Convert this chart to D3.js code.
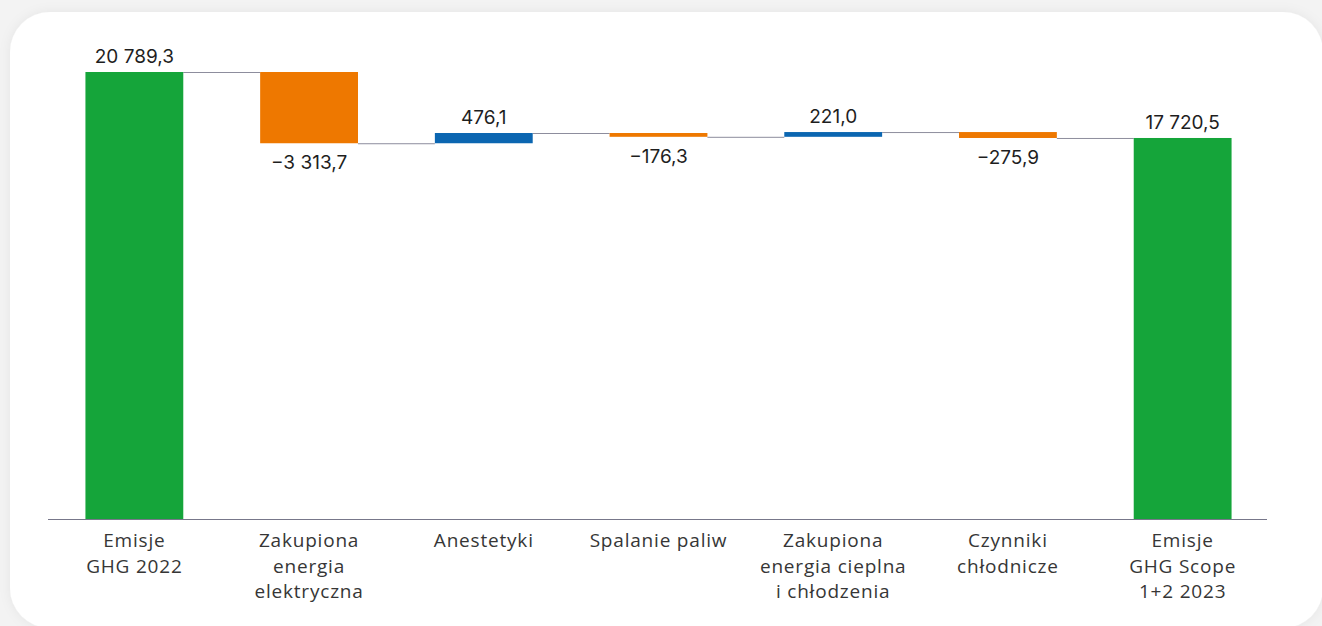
<!DOCTYPE html>
<html lang="pl">
<head>
<meta charset="utf-8">
<script src="https://cdn.jsdelivr.net/npm/d3@7"></script>
<style>
  html, body { margin: 0; padding: 0; background: #f3f3f3; }
  svg { display: block; }
</style>
</head>
<body>
<svg id="chart" width="1322" height="626"></svg>
<script>
// Waterfall: GHG emissions 2022 -> 2023 (Scope 1+2), tCO2e
const categories = [
  ["Emisje", "GHG 2022"],
  ["Zakupiona", "energia", "elektryczna"],
  ["Anestetyki"],
  ["Spalanie paliw"],
  ["Zakupiona", "energia cieplna", "i chłodzenia"],
  ["Czynniki", "chłodnicze"],
  ["Emisje", "GHG Scope", "1+2 2023"]
];
const values = [20789.3, -3313.7, 476.1, -176.3, 221.0, -275.9, 17720.5];
const kinds = ["total", "delta", "delta", "delta", "delta", "delta", "total"];
const valueLabels = ["20 789,3", "−3 313,7", "476,1", "−176,3", "221,0", "−275,9", "17 720,5"];

const colors = { total: "#15a53a", up: "#0b66b1", down: "#ee7800" };

const svg = d3.select("#chart");
const W = 1322, H = 626;

// soft shadow behind the white card
const defs = svg.append("defs");
const f = defs.append("filter").attr("id", "shadow")
  .attr("x", "-10%").attr("y", "-10%").attr("width", "120%").attr("height", "120%");
f.append("feDropShadow").attr("dx", 0).attr("dy", 0).attr("stdDeviation", 6)
  .attr("flood-color", "#000").attr("flood-opacity", 0.06);

svg.append("rect").attr("x", 0).attr("y", 0).attr("width", W).attr("height", H).attr("fill", "#f3f3f3");
svg.append("rect")
  .attr("x", 10).attr("y", 12).attr("width", 1313).attr("height", 616)
  .attr("rx", 40).attr("ry", 40)
  .attr("fill", "#ffffff").attr("filter", "url(#shadow)");

// running totals for the floating bars
let running = 0;
const bars = values.map((v, i) => {
  let y0, y1;
  if (kinds[i] === "total") { y0 = 0; y1 = v; running = v; }
  else { y0 = running; y1 = running + v; running = y1; }
  return { i, v, y0, y1, kind: kinds[i], label: valueLabels[i] };
});

const x = d3.scaleBand()
  .domain(d3.range(categories.length))
  .range([47, 1270])
  .paddingInner(0.44)
  .paddingOuter(0.22);

const y = d3.scaleLinear().domain([0, 20789.3]).range([519, 72]);

const g = svg.append("g");

// connectors between consecutive bars
g.selectAll("line.conn")
  .data(bars.slice(0, -1))
  .join("line")
  .attr("class", "conn")
  .attr("x1", d => x(d.i) + x.bandwidth())
  .attr("x2", d => x(d.i + 1))
  .attr("y1", d => y(d.y1) + 0.5)
  .attr("y2", d => y(d.y1) + 0.5)
  .attr("stroke", "#8d8d9d")
  .attr("stroke-width", 1);

// bars
g.selectAll("rect.bar")
  .data(bars)
  .join("rect")
  .attr("class", "bar")
  .attr("x", d => x(d.i))
  .attr("width", x.bandwidth())
  .attr("y", d => y(Math.max(d.y0, d.y1)))
  .attr("height", d => Math.abs(y(d.y0) - y(d.y1)))
  .attr("fill", d => d.kind === "total" ? colors.total : (d.v >= 0 ? colors.up : colors.down));

// baseline axis
const axis = d3.axisBottom(x).tickSize(0).tickFormat("");
const ax = g.append("g").attr("transform", "translate(0,519)").call(axis);
ax.select(".domain").attr("stroke", "#77778a").attr("stroke-width", 1)
  .attr("d", "M48,0.5H1267");

// value labels
g.selectAll("text.val")
  .data(bars)
  .join("text")
  .attr("class", "val")
  .attr("x", d => x(d.i) + x.bandwidth() / 2)
  .attr("y", d => d.v >= 0 ? y(Math.max(d.y0, d.y1)) - 9 : y(Math.min(d.y0, d.y1)) + 26)
  .attr("text-anchor", "middle")
  .attr("font-family", "Inter, 'DejaVu Sans', sans-serif")
  .attr("font-size", 19)
  .attr("fill", "#1e1e1e")
  .text(d => d.label);

// category labels, multi-line
const cat = g.selectAll("text.cat")
  .data(categories)
  .join("text")
  .attr("class", "cat")
  .attr("x", (d, i) => x(i) + x.bandwidth() / 2)
  .attr("y", 547)
  .attr("text-anchor", "middle")
  .attr("font-family", "'Open Sans', sans-serif")
  .attr("font-size", 19)
  .attr("font-weight", 400)
  .attr("letter-spacing", 0.8)
  .attr("fill", "#363636");
cat.selectAll("tspan")
  .data(d => d)
  .join("tspan")
  .attr("x", function () { return this.parentNode.getAttribute("x"); })
  .attr("dy", (d, i) => i === 0 ? 0 : 25.5)
  .text(d => d);
</script>
</body>
</html>
